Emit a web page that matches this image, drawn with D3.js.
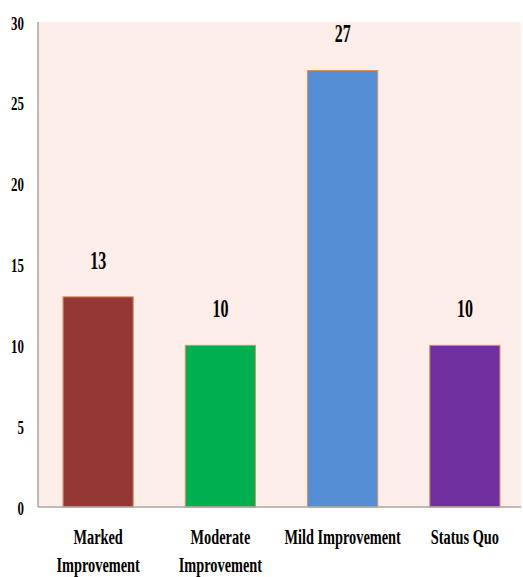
<!DOCTYPE html>
<html><head><meta charset="utf-8">
<script src="https://cdn.jsdelivr.net/npm/d3@7"></script>
<style>body{margin:0;background:#fff}svg{display:block}</style>
</head><body><svg id="c" width="523" height="577"></svg>
<script>
const categories = [["Marked","Improvement"],["Moderate","Improvement"],["Mild Improvement"],["Status Quo"]];
const values = [13, 10, 27, 10];
const colors = ["#953735", "#00b050", "#558ed5", "#7030a0"];
const yTicks = [0, 5, 10, 15, 20, 25, 30];

(function(){
const svg = d3.select("#c");
const pL = 38, pR = 521, pT = 22, pB = 507;
const x = d3.scaleBand().domain(d3.range(values.length)).range([37, 526]).paddingInner(0.426).paddingOuter(0.213);
const y = d3.scaleLinear().domain([0, 30]).range([pB, pT]);
const serif = "'Liberation Serif','Times New Roman',serif";

svg.append("rect").attr("x", pL).attr("y", pT).attr("width", pR - pL).attr("height", pB - pT).attr("fill", "#fdeee9");

svg.selectAll(".bar").data(values).join("rect")
  .attr("x", (d, i) => x(i)).attr("y", d => y(d))
  .attr("width", x.bandwidth()).attr("height", d => y(0) - y(d))
  .attr("fill", (d, i) => colors[i]).attr("stroke", "#d9905a").attr("stroke-width", 1);

svg.append("line").attr("x1", pL).attr("x2", pL).attr("y1", pT).attr("y2", pB).attr("stroke", "#a6a6a6").attr("stroke-width", 1.5);
svg.append("line").attr("x1", pL).attr("x2", pR).attr("y1", pB).attr("y2", pB).attr("stroke", "#a6a6a6").attr("stroke-width", 1.5);

const yAxis = d3.axisLeft(y).tickValues(yTicks).tickSize(0).tickPadding(0).tickFormat(d3.format("d"));
const ga = svg.append("g").attr("transform", `translate(${pL},0)`).call(yAxis);
ga.select(".domain").remove();
ga.selectAll(".tick text")
  .attr("x", null).attr("text-anchor", "end")
  .attr("transform", "translate(-14,1) scale(0.68,1)")
  .attr("font-family", serif)
  .attr("font-weight", "bold").attr("font-size", 19).attr("fill", "#000");

svg.selectAll(".val").data(values).join("text")
  .attr("transform", (d, i) => `translate(${x(i) + x.bandwidth() / 2},${y(d) - 37}) scale(0.64,1)`)
  .attr("text-anchor", "middle").attr("dy", "0.35em")
  .attr("font-family", serif).attr("font-weight", "bold")
  .attr("font-size", 25).attr("fill", "#000").text(d => d);

categories.forEach((lines, i) => {
  lines.forEach((t, j) => {
    svg.append("text")
      .attr("transform", `translate(${x(i) + x.bandwidth() / 2},${537 + j * 28}) scale(0.7,1)`)
      .attr("text-anchor", "middle").attr("dy", "0.35em")
      .attr("font-family", serif).attr("font-weight", "bold")
      .attr("font-size", 20.5).attr("fill", "#000").text(t);
  });
});
})();
</script></body></html>
